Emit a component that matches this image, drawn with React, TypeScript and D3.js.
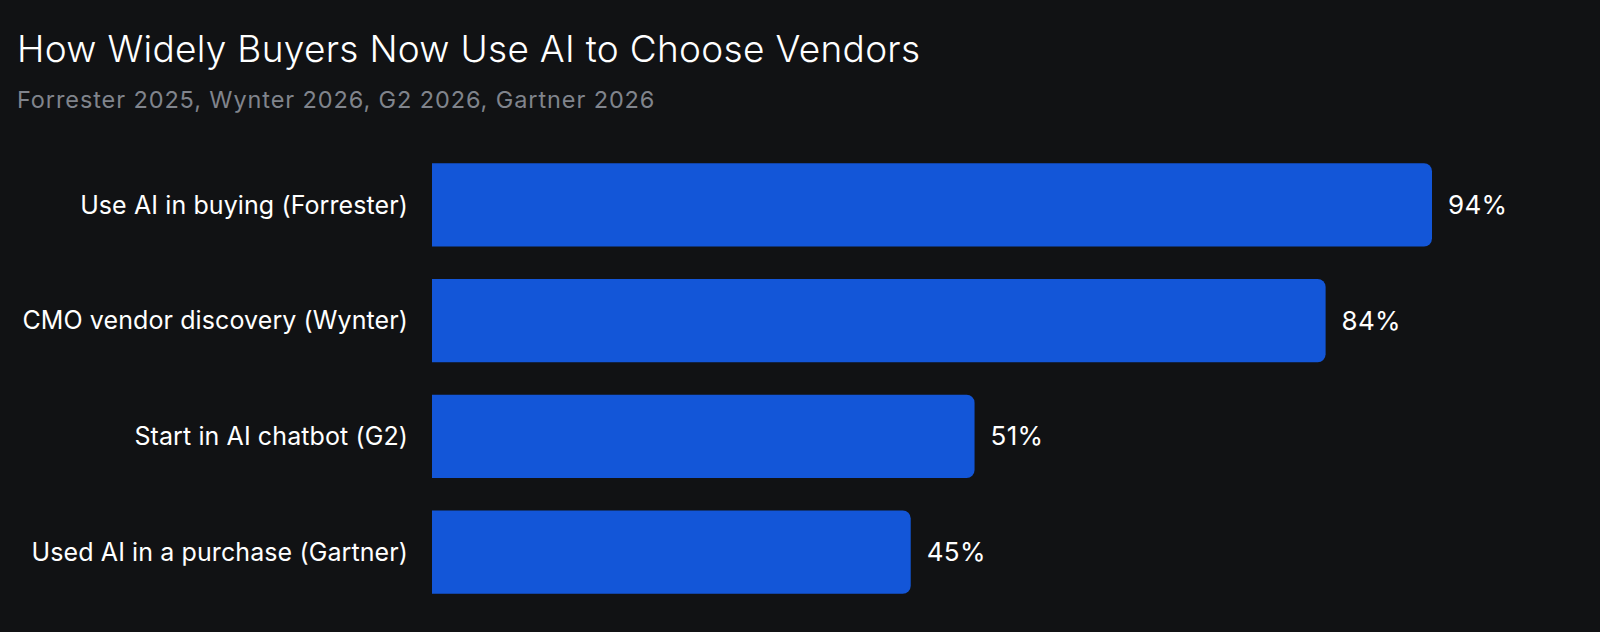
import { useEffect, useRef } from 'react';
import * as d3 from 'd3';

const categories = [
  'Use AI in buying (Forrester)',
  'CMO vendor discovery (Wynter)',
  'Start in AI chatbot (G2)',
  'Used AI in a purchase (Gartner)',
];
const values = [94, 84, 51, 45];
const title = 'How Widely Buyers Now Use AI to Choose Vendors';
const subtitle = 'Forrester 2025, Wynter 2026, G2 2026, Gartner 2026';

const WIDTH = 1600;
const HEIGHT = 632;
const BG = '#111214';
const BAR = '#1356d8';

export default function App() {
  const svgRef = useRef<SVGSVGElement>(null);

  useEffect(() => {
    if (!svgRef.current) return;
    const svg = d3.select(svgRef.current);
    svg.selectAll('*').remove();

    const font = 'Inter, "Noto Sans", sans-serif';

    svg.append('rect')
      .attr('width', WIDTH)
      .attr('height', HEIGHT)
      .attr('fill', BG);

    svg.append('text')
      .attr('x', 17)
      .attr('y', 62)
      .attr('fill', '#ffffff')
      .attr('font-family', font)
      .attr('font-size', 37)
      .attr('font-weight', 300)
      .attr('letter-spacing', 0.3)
      .text(title);

    svg.append('text')
      .attr('x', 17)
      .attr('y', 108)
      .attr('fill', '#80848c')
      .attr('font-family', font)
      .attr('font-size', 23.5)
      .attr('letter-spacing', 0.9)
      .text(subtitle);

    const x = d3.scaleLinear()
      .domain([0, d3.max(values) as number])
      .range([432, 1432]);

    const y = d3.scaleBand<string>()
      .domain(categories)
      .range([147, 610])
      .paddingInner(0.28)
      .paddingOuter(0.14);

    const r = 8;
    // square on the left, rounded on the right
    const barPath = (v: number, c: string) => {
      const x0 = x(0);
      const x1 = x(v);
      const y0 = y(c) as number;
      const h = y.bandwidth();
      const p = d3.path();
      p.moveTo(x0, y0);
      p.lineTo(x1 - r, y0);
      p.arcTo(x1, y0, x1, y0 + r, r);
      p.lineTo(x1, y0 + h - r);
      p.arcTo(x1, y0 + h, x1 - r, y0 + h, r);
      p.lineTo(x0, y0 + h);
      p.closePath();
      return p.toString();
    };

    const g = svg.append('g');

    g.selectAll('path.bar')
      .data(categories)
      .enter()
      .append('path')
      .attr('class', 'bar')
      .attr('d', (c, i) => barPath(values[i], c))
      .attr('fill', BAR);

    g.selectAll('text.cat')
      .data(categories)
      .enter()
      .append('text')
      .attr('class', 'cat')
      .attr('x', 408)
      .attr('y', c => (y(c) as number) + y.bandwidth() / 2)
      .attr('dy', '0.35em')
      .attr('text-anchor', 'end')
      .attr('fill', '#ffffff')
      .attr('font-family', font)
      .attr('font-size', 25)
      .attr('letter-spacing', 0.1)
      .text(c => c);

    g.selectAll('text.val')
      .data(categories)
      .enter()
      .append('text')
      .attr('class', 'val')
      .attr('x', (c, i) => x(values[i]) + 16)
      .attr('y', c => (y(c) as number) + y.bandwidth() / 2)
      .attr('dy', '0.35em')
      .attr('fill', '#ffffff')
      .attr('font-family', font)
      .attr('font-size', 26)
      .attr('letter-spacing', 0.3)
      .text((c, i) => `${values[i]}%`);
  }, []);

  return (
    <svg
      ref={svgRef}
      width={WIDTH}
      height={HEIGHT}
      style={{ position: 'absolute', left: 0, top: 0, display: 'block' }}
    />
  );
}
